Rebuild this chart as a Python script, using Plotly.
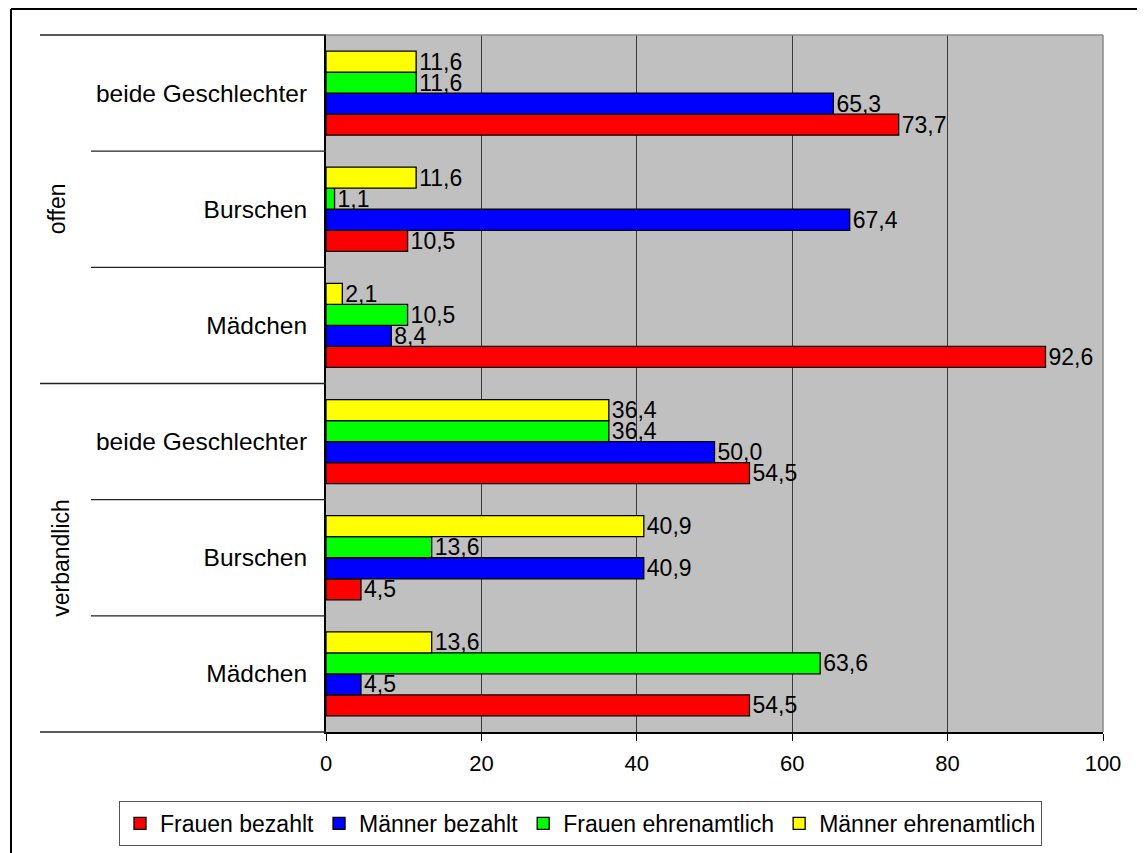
import plotly.graph_objects as go

# Categories in display order (top to bottom)
groups = ["offen", "offen", "offen", "verbandlich", "verbandlich", "verbandlich"]
subcats = ["beide Geschlechter", "Burschen", "Mädchen",
           "beide Geschlechter", "Burschen", "Mädchen"]

series_names = ["Frauen bezahlt", "Männer bezahlt", "Frauen ehrenamtlich", "Männer ehrenamtlich"]
series_colors = ["#FF0000", "#0000FF", "#00FF00", "#FFFF00"]

frauen_bezahlt = [73.7, 10.5, 92.6, 54.5, 4.5, 54.5]
maenner_bezahlt = [65.3, 67.4, 8.4, 50.0, 40.9, 4.5]
frauen_ehrenamtlich = [11.6, 1.1, 10.5, 36.4, 13.6, 63.6]
maenner_ehrenamtlich = [11.6, 11.6, 2.1, 36.4, 40.9, 13.6]

x_ticks = [0, 20, 40, 60, 80, 100]

keys = [g + "|" + s for g, s in zip(groups, subcats)]
series_values = [frauen_bezahlt, maenner_bezahlt, frauen_ehrenamtlich, maenner_ehrenamtlich]

FONT = "Liberation Sans, Arial, sans-serif"

fig = go.Figure()
for name, color, vals in zip(series_names, series_colors, series_values):
    fig.add_trace(go.Bar(
        y=keys, x=vals, name=name, orientation="h",
        marker=dict(color=color, line=dict(color="black", width=1.3)),
        texttemplate="%{x:.1f}", textposition="outside",
        textfont=dict(size=23, color="black", family=FONT),
        constraintext="none", cliponaxis=False,
    ))

OFF = 8  # page offset of the figure inside the browser
W, H = 1145 - OFF, 853
# plot area in screen pixels: x 326..1103, y 35..732
L, R, T = 326 - OFF, 1145 - 1103, 35 - OFF
B = H - (732 - OFF)
pw, ph = W - L - R, H - T - B

def px_x(x):
    return (x - OFF - L) / pw

def px_y(y):
    return (H - B - (y - OFF)) / ph

shapes = []
n = len(keys)
for i in range(n + 1):
    yv = 1 - i / n
    outer = (i % 3 == 0)
    shapes.append(dict(type="line", xref="paper", yref="paper",
                       x0=px_x(40 if outer else 91), x1=0, y0=yv, y1=yv,
                       line=dict(color="#222", width=1.3)))
shapes.append(dict(type="line", xref="paper", yref="paper", x0=0, x1=1, y0=1, y1=1,
                   line=dict(color="#8a8a8a", width=1.5)))
shapes.append(dict(type="line", xref="paper", yref="paper", x0=1, x1=1, y0=0, y1=1,
                   line=dict(color="#8a8a8a", width=1.5)))
shapes.append(dict(type="line", xref="paper", yref="paper", x0=px_x(11), x1=px_x(11),
                   y0=px_y(9), y1=px_y(880), line=dict(color="black", width=2)))
shapes.append(dict(type="line", xref="paper", yref="paper", x0=px_x(11), x1=px_x(1160),
                   y0=px_y(9), y1=px_y(9), line=dict(color="black", width=2)))

annotations = [
    dict(text="offen", xref="paper", yref="paper", x=px_x(57), y=0.75, textangle=-90,
         xanchor="center", yanchor="middle",
         showarrow=False, font=dict(size=23, color="black", family=FONT)),
    dict(text="verbandlich", xref="paper", yref="paper", x=px_x(61), y=0.25, textangle=-90,
         xanchor="center", yanchor="middle",
         showarrow=False, font=dict(size=23, color="black", family=FONT)),
]

fig.update_layout(
    width=W, height=H,
    margin=dict(l=L, r=R, t=T, b=B),
    paper_bgcolor="white", plot_bgcolor="#C0C0C0",
    barmode="group", bargap=0.276, bargroupgap=0,
    separators=",.",
    font=dict(family=FONT, color="black"),
    shapes=shapes, annotations=annotations,
    legend=dict(orientation="h", x=px_x(119), y=px_y(801), xanchor="left", yanchor="top",
                bordercolor="#555", borderwidth=1, bgcolor="white",
                font=dict(size=23, color="black", family=FONT), traceorder="normal"),
    xaxis=dict(range=[0, 100], tickvals=x_ticks, showgrid=True, gridcolor="#3a3a3a", gridwidth=1,
               zeroline=False, showline=True, linecolor="black", linewidth=1.5,
               ticks="outside", ticklen=7, tickcolor="black",
               tickfont=dict(size=22, color="black", family=FONT), ticklabelstandoff=4),
    yaxis=dict(type="category", categoryorder="array", categoryarray=keys[::-1],
               tickvals=keys, ticktext=subcats, showgrid=False, zeroline=False,
               showline=True, linecolor="black", linewidth=2, ticks="",
               tickfont=dict(size=24.5, color="black", family=FONT), ticklabelstandoff=12),
)

fig.write_html("out.html")
